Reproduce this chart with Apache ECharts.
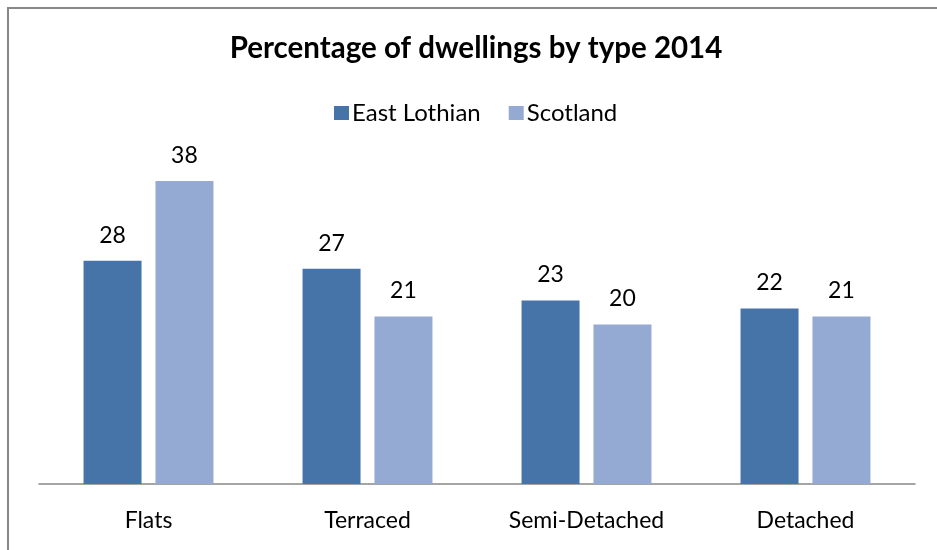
<!DOCTYPE html>
<html>
<head>
<meta charset="utf-8">
<script src="https://cdn.jsdelivr.net/npm/echarts@6/dist/echarts.min.js"></script>
<style>
html,body{margin:0;padding:0;background:#fff;}
#chart{width:937px;height:550px;}
</style>
</head>
<body>
<div id="chart"></div>
<script>
const categories = ['Flats', 'Terraced', 'Semi-Detached', 'Detached'];
const eastLothian = [28, 27, 23, 22];
const scotland = [38, 21, 20, 21];
const seriesNames = ['East Lothian', 'Scotland'];
const titleText = 'Percentage of dwellings by type 2014';

const FONT = 'Lato, "Open Sans", sans-serif';
const chart = echarts.init(document.getElementById('chart'), null, {renderer: 'canvas'});
chart.setOption({
  animation: false,
  backgroundColor: '#fff',
  title: {
    text: titleText,
    left: 471, textAlign: 'center',
    top: 28,
    textStyle: {fontFamily: FONT, fontWeight: 'bold', fontSize: 29.5, color: '#000'}
  },
  legend: {
    data: seriesNames,
    top: 96,
    left: 329,
    itemWidth: 15, itemHeight: 14, itemGap: 28,
    icon: 'rect',
    textStyle: {fontFamily: FONT, fontSize: 24, color: '#000', padding: [0,0,0,-2]}
  },
  graphic: [{
    type: 'rect',
    shape: {x: 8, y: 8, width: 960, height: 600},
    style: {fill: 'none', stroke: '#878787', lineWidth: 2},
    silent: true
  }],
  grid: {left: 39, right: 22, top: 165, bottom: 66, containLabel: false},
  xAxis: {
    type: 'category',
    data: categories,
    axisLine: {lineStyle: {color: '#888', width: 1.5}},
    axisTick: {show: false},
    axisLabel: {fontFamily: FONT, fontSize: 23, color: '#000', margin: 25}
  },
  yAxis: {
    type: 'value', min: 0, max: 40, interval: 10,
    show: false,
    splitLine: {show: false}
  },
  series: [
    {
      name: seriesNames[0], type: 'bar', data: eastLothian,
      barWidth: 58, barGap: '24%',
      itemStyle: {color: '#4674a8'},
      label: {show: true, position: 'top', distance: 14, fontFamily: FONT, fontSize: 23, color: '#000'}
    },
    {
      name: seriesNames[1], type: 'bar', data: scotland,
      barWidth: 58,
      itemStyle: {color: '#95aad2'},
      label: {show: true, position: 'top', distance: 14, fontFamily: FONT, fontSize: 23, color: '#000'}
    }
  ]
});
</script>
</body>
</html>
